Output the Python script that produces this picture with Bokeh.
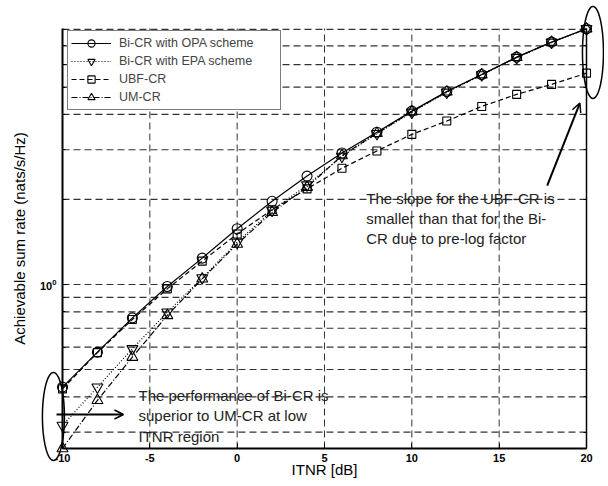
import math
from bokeh.plotting import figure
from bokeh.models import (Range1d, FixedTicker, LogAxis, Legend, LegendItem, Label,
                          Arrow, OpenHead, PolyAnnotation, LogTickFormatter)
from bokeh.embed import file_html
from bokeh.resources import INLINE

# ---------------- data ----------------
itnr = [-10, -8, -6, -4, -2, 0, 2, 4, 6, 8, 10, 12, 14, 16, 18, 20]
opa = [0.433, 0.576, 0.762, 0.984, 1.24, 1.575, 1.97, 2.42, 2.92, 3.46,
       4.11, 4.82, 5.54, 6.38, 7.21, 8.04]
epa = [0.317, 0.433, 0.592, 0.798, 1.055, 1.41, 1.83, 2.25, 2.84, 3.42,
       4.07, 4.79, 5.52, 6.36, 7.20, 8.04]
ubf = [0.427, 0.574, 0.752, 0.965, 1.21, 1.51, 1.84, 2.18, 2.58, 2.97,
       3.40, 3.79, 4.27, 4.71, 5.11, 5.60]
umcr = [0.2626, 0.389, 0.553, 0.777, 1.047, 1.39, 1.80, 2.21, 2.86, 3.43,
        4.09, 4.81, 5.53, 6.37, 7.21, 8.04]
x_ticks = [-10, -5, 0, 5, 10, 15, 20]
x_tick_labels = ["-10", "-5", "0", "5", "10", "15", "20"]
y_major = [1]
y_minor = [0.3, 0.4, 0.5, 0.6, 0.7, 0.8, 0.9, 2, 3, 4, 5, 6, 7, 8]
labels = ["Bi-CR with OPA scheme", "Bi-CR with EPA scheme", "UBF-CR", "UM-CR"]

FONT = "Liberation Sans"
# axes box (data limits)
XLO, XHI = -10, 20
YLO, YHI = 0.2626, 8.06
# canvas and box placement in pixels
W, H = 604, 484
BOX_L, BOX_T, BOX_W, BOX_H = 62, 28, 524, 420

px_per_x = BOX_W / (XHI - XLO)
px_per_dec = BOX_H / (math.log10(YHI) - math.log10(YLO))
x_range = Range1d(XLO - BOX_L / px_per_x, XHI + (W - BOX_L - BOX_W) / px_per_x)
y_range = Range1d(YLO * 10 ** (-(H - BOX_T - BOX_H) / px_per_dec),
                  YHI * 10 ** (BOX_T / px_per_dec))

p = figure(width=W, height=H, y_axis_type="log", x_range=x_range, y_range=y_range,
           output_backend="svg", toolbar_location=None, min_border=0)
p.outline_line_color = None
p.background_fill_color = "white"
p.border_fill_color = "white"
p.xgrid.visible = False
p.ygrid.visible = False

# ---------------- axes ----------------
p.xaxis.ticker = FixedTicker(ticks=x_ticks)
p.xaxis.major_label_overrides = dict(zip(x_ticks, x_tick_labels))
p.yaxis.ticker = FixedTicker(ticks=y_major, minor_ticks=y_minor)
p.yaxis.formatter = LogTickFormatter()
p.xaxis.fixed_location = YLO
p.yaxis.fixed_location = XLO
p.xaxis.bounds = (XLO, XHI)
p.yaxis.bounds = (YLO, YHI)

for ax in (p.xaxis[0], p.yaxis[0]):
    ax.axis_line_width = 2
    ax.axis_line_color = "black"
    ax.major_tick_in = 5
    ax.major_tick_out = 0
    ax.minor_tick_in = 3
    ax.minor_tick_out = 0
    ax.major_label_text_font = FONT
    ax.major_label_text_font_style = "bold"
    ax.major_label_text_font_size = "11px"
    ax.major_label_text_color = "black"
    ax.axis_label_text_font = FONT
    ax.axis_label_text_font_style = "normal"
    ax.axis_label_text_font_size = "15px"
    ax.axis_label_text_color = "black"

p.xaxis.minor_tick_in = 0
p.xaxis.axis_label = "ITNR [dB]"
p.xaxis.major_label_standoff = 5
p.xaxis.axis_label_standoff = -4
p.yaxis.axis_label = "Achievable sum rate (nats/s/Hz)"
p.yaxis.major_label_standoff = 6
p.yaxis.axis_label_standoff = 9

right = LogAxis(ticker=FixedTicker(ticks=y_major, minor_ticks=y_minor),
                fixed_location=XHI, bounds=(YLO, YHI),
                major_label_overrides={1: ""}, major_label_text_font_size="1px",
                axis_line_width=1.5, axis_line_color="black",
                major_tick_in=5, major_tick_out=0, minor_tick_in=3, minor_tick_out=0,
                major_label_standoff=0)
p.add_layout(right, "right")

# ---------------- grid (dashed, inside the box) ----------------
GRID = "#333333"
gx = x_ticks[1:-1]
p.segment(x0=gx, y0=[YLO] * len(gx), x1=gx, y1=[YHI] * len(gx),
          line_color=GRID, line_width=1, line_dash="7 4")
gy = y_minor + y_major
p.segment(x0=[XLO] * len(gy), y0=gy, x1=[XHI] * len(gy), y1=gy,
          line_color=GRID, line_width=1.2, line_dash="7 4")

# ---------------- series ----------------
series = [
    (opa, "solid", "circle", 10),
    (epa, "1 2", "inverted_triangle", 11),
    (ubf, "5 3", "square", 8),
    (umcr, "6 2 1 2", "triangle", 11),
]
items = []
for (vals, dash, marker, size), lab in zip(series, labels):
    rl = p.line(itnr, vals, line_color="black", line_width=1.2, line_dash=dash)
    rm = p.scatter(itnr, vals, marker=marker, size=size, fill_color=None,
                   line_color="black", line_width=1.1)
    items.append(LegendItem(label=lab, renderers=[rl, rm]))

legend = Legend(items=items, location=(67, H - 110), margin=0, padding=3, spacing=0,
                label_height=18, glyph_height=18, glyph_width=40, label_standoff=8,
                label_width=158, label_text_font=FONT, label_text_font_size="12.5px",
                border_line_color="black", border_line_width=1,
                background_fill_color="white", background_fill_alpha=1)
p.add_layout(legend)

# ---------------- annotations ----------------
def ellipse_poly(cx, cy, rx_px, ry_px, n=72):
    xs, ys = [], []
    for k in range(n):
        t = 2 * math.pi * k / n
        xs.append(cx + rx_px * math.cos(t) / px_per_x)
        ys.append(cy * 10 ** (-ry_px * math.sin(t) / px_per_dec))
    return xs, ys


for (cx, cy, rx, ry) in [(20.37, 6.63, 10.5, 46), (-10.52, 0.341, 11, 44)]:
    ex, ey = ellipse_poly(cx, cy, rx, ry)
    p.add_layout(PolyAnnotation(xs=ex, ys=ey, fill_alpha=0, line_color="black",
                                line_alpha=1, line_width=1.5))

p.add_layout(Arrow(end=OpenHead(size=9, line_width=1.5, line_color="black"),
                   x_start=17.75, y_start=2.24, x_end=19.62, y_end=4.39,
                   line_width=2, line_color="black"))
p.add_layout(Arrow(end=OpenHead(size=9, line_width=1.5, line_color="black"),
                   x_start=-10.34, y_start=0.3465, x_end=-6.51, y_end=0.3465,
                   line_width=2, line_color="black"))

p.add_layout(Label(x=7.39, y=1.713,
                   text="The slope for the UBF-CR is\nsmaller than that for the Bi-\nCR due to pre-log factor",
                   text_font=FONT, text_font_size="15px", text_baseline="middle",
                   text_color="#222222"))
p.add_layout(Label(x=-5.65, y=0.3425,
                   text="The performance of Bi-CR is\nsuperior to UM-CR at low\nITNR region",
                   text_font=FONT, text_font_size="15px", text_baseline="middle",
                   text_color="#222222"))

open("out.html", "w").write(file_html(p, INLINE))
